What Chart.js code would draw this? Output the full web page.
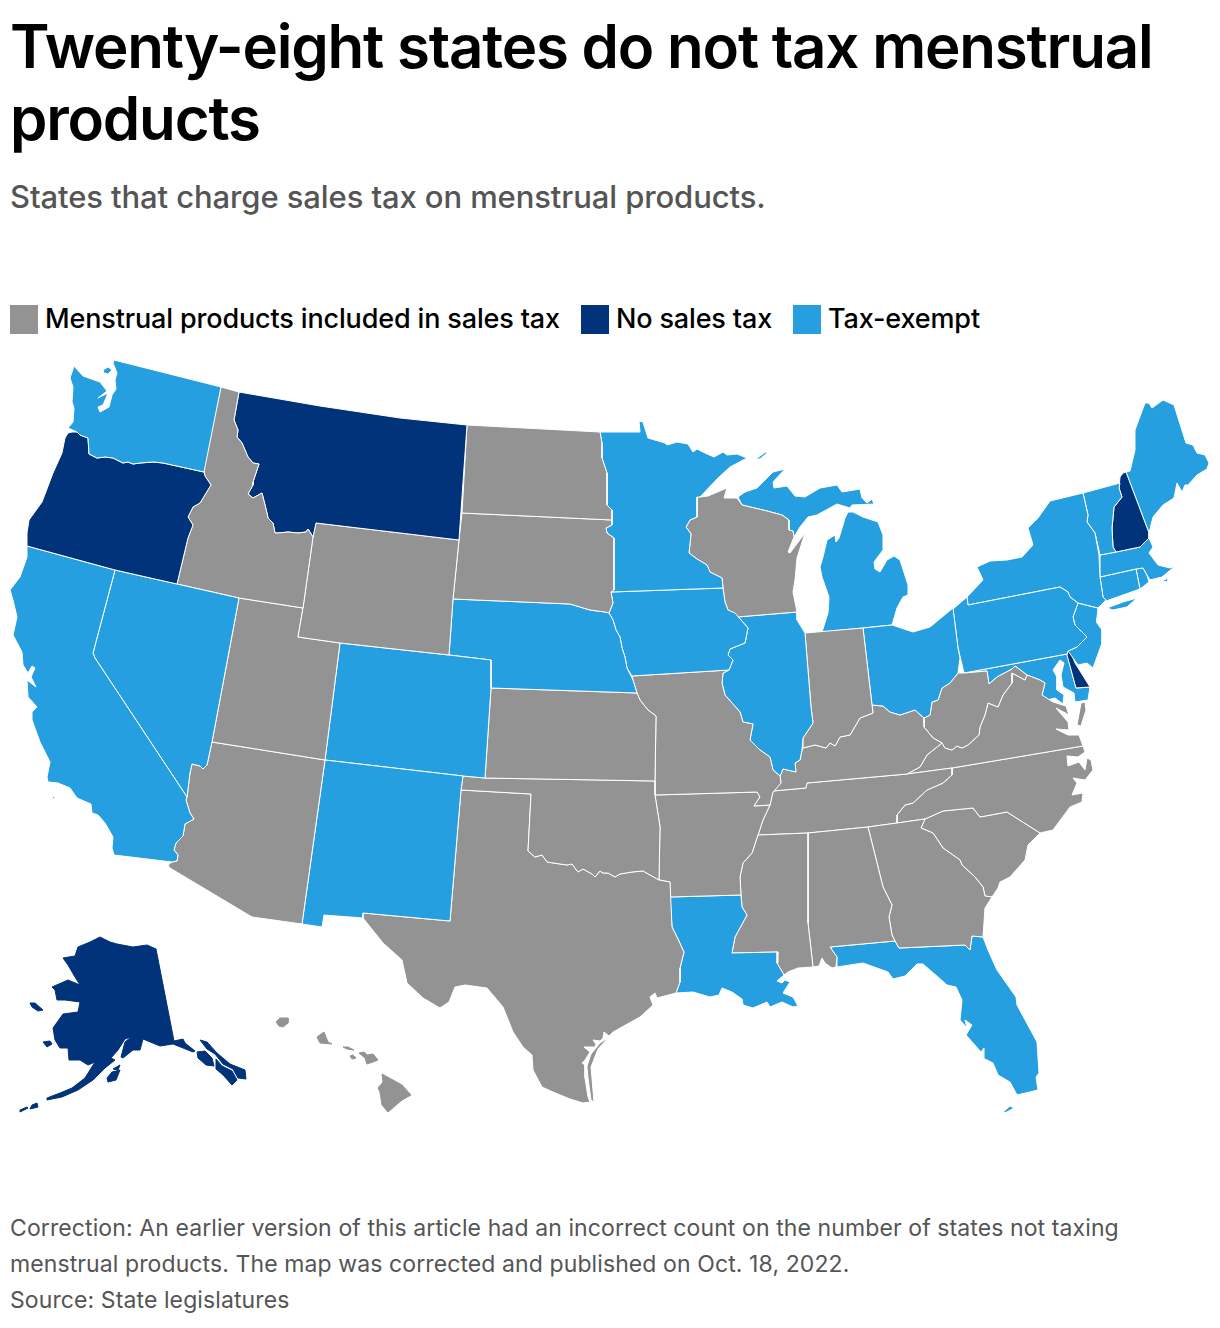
<!DOCTYPE html>
<html>
<head>
<meta charset="utf-8">
<title>Twenty-eight states do not tax menstrual products</title>
<script src="https://cdn.jsdelivr.net/npm/chart.js@4"></script>
<style>
  html, body { margin: 0; padding: 0; background: #fff; }
  body { width: 1220px; height: 1328px; position: relative; overflow: hidden; font-family: Inter, sans-serif; }
  h1 { position: absolute; left: 10px; top: 10px; width: 1200px; margin: 0; font-size: 60px; line-height: 72px; font-weight: 600; color: #000; letter-spacing: -1.2px; }
  #subtitle { position: absolute; left: 10px; top: 177px; font-size: 31px; line-height: 40px; font-weight: 500; color: #555; letter-spacing: -0.1px; }
  #legend { position: absolute; left: 10px; top: 305px; height: 29px; display: flex; font-size: 27px; line-height: 28px; font-weight: 500; color: #000; letter-spacing: -0.15px; }
  #legend span { display: flex; }
  #legend i { display: block; width: 28px; height: 29px; margin-right: 7px; }
  #chart { position: absolute; left: 0; top: 340px; }
  #note { position: absolute; left: 10px; top: 1210px; width: 1200px; font-size: 23px; line-height: 36px; color: #555; letter-spacing: 0.1px; }
</style>
</head>
<body>
<h1>Twenty-eight states do not tax menstrual<br>products</h1>
<div id="subtitle">States that charge sales tax on menstrual products.</div>
<div id="legend"></div>
<canvas id="chart" width="1220" height="790"></canvas>
<div id="note">Correction: An earlier version of this article had an incorrect count on the number of states not taxing<br>menstrual products. The map was corrected and published on Oct. 18, 2022.<br>Source: State legislatures</div>
<script>
const groupLabels = ['Menstrual products included in sales tax', 'No sales tax', 'Tax-exempt'];
const groupColors = ['#939393', '#00337a', '#259fdf'];

const stateNames = ['WA', 'OR', 'CA', 'NV', 'ID', 'MT', 'WY', 'UT', 'AZ', 'NM', 'CO', 'ND', 'SD', 'NE', 'KS', 'OK', 'TX', 'MN', 'IA', 'MO', 'AR', 'LA', 'MS', 'AL', 'GA', 'FL', 'WI', 'IL', 'IN', 'OH', 'KY', 'TN', 'MI', 'WV', 'VA', 'NC', 'SC', 'PA', 'NY', 'NJ', 'DE', 'MD', 'VT', 'NH', 'ME', 'MA', 'CT', 'RI', 'AK', 'HI'];

// index into groupLabels for each state
const stateGroups = [2, 1, 2, 2, 0, 1, 0, 0, 0, 2, 2, 0, 0, 2, 0, 0, 0, 2, 2, 0, 0, 2, 0, 0, 0, 2, 0, 2, 0, 2, 0, 0, 2, 0, 0, 0, 0, 2, 2, 2, 1, 2, 2, 1, 2, 2, 2, 2, 1, 0];

// no white edge on these, the reference draws them without one
const insetStates = ['AK', 'HI'];

// outlines, x,y pairs in map units; one list per landmass
const stateOutlines = {
  WA: [[114,360, 221,387, 204,472, 163,463, 153,462, 140,463, 133,464, 128,462, 123,463, 113,458, 105,457, 97,458, 89,454, 88,438, 80,435, 77,432, 68,428, 73,422, 74,408, 72,402, 73,387, 70,378, 74,366, 83,376, 100,382, 107,391, 98,398, 108,393, 103,405, 98,407, 100,412, 109,407, 112,395, 116,389, 115,380, 117,373, 113,363],
       [103,370, 108,367, 112,370, 108,374, 104,373]],
  OR: [[68,433, 72,432, 77,432, 80,435, 88,438, 89,454, 97,458, 105,457, 113,458, 123,463, 128,462, 133,464, 140,463, 153,462, 163,463, 204,472, 205,476, 211,485, 200,503, 193,507, 188,517, 193,525, 188,538, 177,584, 115,570, 27,546, 27,533, 29,520, 42,502, 53,473, 62,453, 65,438]],
  CA: [[27,546, 115,570, 93,653, 95,658, 187,797, 186,800, 190,813, 194,819, 185,824, 183,836, 176,843, 174,850, 178,855, 177,861, 172,862, 114,855, 112,848, 113,837, 105,823, 98,815, 92,813, 91,804, 77,798, 70,788, 58,783, 48,782, 47,777, 50,762, 45,752, 40,742, 32,720, 32,712, 37,707, 28,697, 27,680, 36,687, 31,677, 35,668, 32,666, 28,673, 23,665, 22,652, 13,635, 17,617, 13,600, 10,590, 20,577, 27,557],
       [52,796, 55,797, 53,799]],
  NV: [[115,570, 177,584, 239,598, 212,742, 207,765, 203,769, 200,766, 192,764, 190,773, 187,797, 95,658, 93,653]],
  ID: [[221,387, 239,392, 234,420, 238,430, 237,437, 242,443, 248,457, 253,463, 259,464, 253,482, 253,485, 248,494, 253,498, 262,493, 263,497, 267,513, 268,518, 273,523, 275,533, 278,533, 288,532, 298,533, 306,532, 308,529, 313,537, 303,608, 239,598, 177,584, 188,538, 193,525, 188,517, 193,507, 200,503, 211,485, 205,476, 204,472, 205,460]],
  MT: [[239,392, 320,406, 400,418, 467,425, 459,540, 316,523, 313,537, 308,529, 306,532, 298,533, 288,532, 278,533, 275,533, 273,523, 268,518, 267,513, 263,497, 262,493, 253,498, 248,494, 253,485, 253,482, 259,464, 253,463, 248,457, 242,443, 237,437, 238,430, 234,420]],
  WY: [[316,523, 459,540, 453,599, 449,655, 340,643, 298,637, 303,608, 313,537]],
  UT: [[239,598, 303,608, 298,637, 340,643, 325,760, 212,742]],
  AZ: [[212,742, 325,760, 302,924, 252,917, 170,868, 168,865, 172,862, 177,861, 178,855, 174,850, 176,843, 183,836, 185,824, 194,819, 190,813, 186,800, 187,797, 190,773, 192,764, 200,766, 203,769, 207,765]],
  NM: [[325,760, 463,776, 461,790, 450,921, 363,913, 363,918, 324,915, 322,927, 302,924]],
  CO: [[340,643, 449,655, 491,660, 491,688, 485,778, 463,776, 325,760]],
  ND: [[467,425, 600,432, 602,443, 602,458, 607,473, 607,505, 612,510, 612,520, 462,513]],
  SD: [[462,513, 612,520, 612,525, 606,528, 607,533, 614,538, 614,590, 611,592, 613,603, 609,613, 605,612, 590,610, 570,604, 453,599, 459,540]],
  NE: [[453,599, 570,604, 590,610, 605,612, 609,613, 613,620, 616,630, 620,637, 622,648, 625,657, 627,668, 633,680, 637,693, 491,688, 491,660, 449,655]],
  KS: [[491,688, 637,693, 640,700, 648,710, 656,716, 655,781, 485,778]],
  OK: [[463,776, 485,778, 655,781, 655,795, 660,827, 659,880, 643,871, 632,872, 620,874, 615,877, 608,873, 603,873, 600,871, 595,877, 592,874, 583,869, 578,872, 572,864, 567,865, 560,864, 547,862, 542,855, 535,857, 528,851, 531,794, 461,790]],
  TX: [[461,790, 531,794, 528,851, 535,857, 542,855, 547,862, 560,864, 567,865, 572,864, 578,872, 583,869, 592,874, 595,877, 600,871, 603,873, 608,873, 615,877, 620,874, 632,872, 643,871, 659,880, 670,882, 672,927, 677,937, 684,952, 680,968, 680,982, 676,993, 657,998, 655,993, 650,997, 653,1005, 640,1017, 613,1032, 609,1036, 604,1032, 603,1038, 600,1041, 593,1040, 596,1044, 595,1047, 584,1047, 590,1052, 585,1060, 582,1063, 585,1065, 585,1078, 588,1097, 590,1102, 583,1103, 570,1099, 553,1092, 542,1087, 533,1070, 532,1055, 523,1047, 513,1032, 503,1007, 487,988, 465,985, 455,987, 449,1002, 440,1008, 423,998, 407,983, 402,960, 383,943, 363,918, 363,913, 450,921],
       [609,1037, 598,1049, 591,1067, 594,1102, 591,1100, 588,1078, 587,1066, 591,1054, 600,1043]],
  MN: [[600,432, 640,432, 639,421, 643,422, 648,438, 665,443, 667,445, 677,442, 688,444, 693,452, 697,449, 705,453, 714,457, 723,452, 727,455, 737,454, 747,458, 730,467, 718,478, 700,497, 697,497, 697,517, 690,520, 686,527, 691,534, 689,553, 697,559, 707,565, 710,572, 722,578, 723,588, 611,592, 614,590, 614,538, 607,533, 606,528, 612,525, 612,520, 612,510, 607,505, 607,473, 602,458, 602,443],
       [756,459, 767,451, 767,453, 760,459]],
  IA: [[611,592, 723,588, 725,602, 728,610, 735,613, 748,628, 745,643, 730,649, 728,655, 733,660, 729,670, 632,676, 627,668, 625,657, 622,648, 620,637, 616,630, 613,620, 609,613, 613,603]],
  MO: [[632,676, 729,670, 723,673, 722,683, 725,695, 740,712, 743,722, 753,724, 750,740, 760,750, 770,757, 773,770, 780,776, 781,783, 775,790, 773,792, 770,805, 754,806, 760,797, 757,792, 655,795, 655,781, 656,716, 648,710, 640,700, 637,693, 633,680]],
  AR: [[655,795, 757,792, 760,797, 754,806, 770,805, 763,820, 758,835, 752,853, 743,863, 740,877, 741,895, 670,897, 670,882, 659,880, 660,827]],
  LA: [[670,897, 741,895, 742,907, 747,915, 735,937, 732,953, 778,952, 777,963, 784,975, 777,981, 782,983, 785,980, 790,982, 783,993, 793,997, 798,1006, 793,1007, 782,1002, 770,1007, 767,1002, 753,1008, 743,1005, 742,999, 732,992, 722,988, 719,995, 710,997, 693,992, 676,993, 680,982, 680,968, 684,952, 677,937, 672,927]],
  MS: [[758,835, 808,833, 808,923, 813,967, 798,968, 788,972, 784,975, 777,963, 778,952, 732,953, 735,937, 747,915, 742,907, 741,895, 740,877, 743,863, 752,853]],
  AL: [[808,833, 868,827, 883,887, 892,905, 889,917, 892,935, 895,941, 830,947, 837,957, 836,967, 832,968, 825,963, 822,958, 819,966, 813,967, 808,923]],
  GA: [[868,827, 897,823, 925,819, 921,828, 933,833, 943,848, 960,860, 962,865, 975,877, 983,887, 985,896, 992,897, 985,908, 983,937, 972,936, 970,950, 965,945, 899,948, 895,941, 892,935, 889,917, 892,905, 883,887]],
  FL: [[830,947, 895,941, 899,948, 965,945, 970,950, 972,936, 983,937, 988,950, 997,970, 1016,997, 1017,1005, 1037,1042, 1039,1073, 1036,1077, 1038,1090, 1017,1095, 1010,1082, 998,1075, 993,1063, 985,1059, 984,1048, 981,1052, 966,1035, 972,1025, 965,1020, 967,1028, 960,1020, 962,1000, 956,987, 947,985, 938,977, 923,964, 917,964, 905,976, 893,979, 888,972, 863,963, 837,967, 837,957],
       [1002,1113, 1010,1106, 1014,1108, 1007,1112]],
  WI: [[697,497, 700,497, 708,496, 727,488, 724,498, 737,498, 742,505, 767,511, 782,515, 789,520, 789,530, 793,531, 794,537, 788,552, 790,553, 805,533, 797,558, 795,580, 793,592, 797,612, 737,617, 728,610, 725,602, 723,588, 722,578, 710,572, 707,565, 697,559, 689,553, 691,534, 686,527, 690,520, 697,517]],
  IL: [[737,617, 797,612, 797,620, 805,633, 811,707, 813,723, 803,738, 802,750, 800,760, 795,763, 796,772, 783,769, 780,776, 773,770, 770,757, 760,750, 750,740, 753,724, 743,722, 740,712, 725,695, 722,683, 723,673, 729,670, 733,660, 728,655, 730,649, 745,643, 748,628, 735,613]],
  IN: [[805,633, 863,628, 872,705, 873,713, 860,718, 850,735, 840,737, 835,746, 830,743, 826,748, 815,745, 803,748, 803,738, 813,723, 811,707]],
  OH: [[863,628, 892,625, 913,632, 930,627, 953,608, 958,648, 960,658, 958,673, 950,683, 942,688, 938,700, 932,702, 930,715, 924,718, 915,710, 900,715, 890,712, 883,706, 872,705]],
  KY: [[872,705, 883,706, 890,712, 900,715, 915,710, 924,718, 924,727, 933,738, 942,743, 927,755, 920,767, 907,774, 807,783, 806,788, 773,791, 781,783, 780,776, 783,769, 796,772, 795,763, 800,760, 802,750, 803,748, 815,745, 826,748, 830,743, 835,746, 840,737, 850,735, 860,718, 873,713]],
  TN: [[773,791, 806,788, 807,783, 907,774, 952,768, 952,775, 943,783, 927,790, 913,803, 905,805, 897,815, 897,823, 868,827, 808,833, 758,835, 763,820, 770,805]],
  MI: [[822,632, 863,628, 892,625, 897,608, 903,597, 908,595, 908,585, 900,560, 894,556, 887,560, 880,572, 875,569, 874,562, 883,550, 883,535, 878,522, 863,517, 853,512, 848,512, 845,518, 843,525, 839,538, 836,542, 835,535, 827,540, 823,557, 820,567, 822,577, 829,597, 828,613],
       [738,497, 745,492, 757,488, 773,472, 785,469, 773,482, 774,488, 787,486, 795,496, 805,497, 820,488, 837,485, 842,492, 860,489, 862,498, 867,503, 872,499, 874,504, 852,505, 850,508, 837,504, 817,515, 808,517, 800,527, 794,537, 793,531, 789,530, 789,520, 782,515, 767,511, 742,505]],
  WV: [[957,648, 960,658, 958,673, 964,673, 987,671, 989,684, 997,677, 1012,669, 1015,666, 1027,675, 1025,680, 1012,673, 1012,683, 1003,695, 998,707, 988,703, 985,715, 980,727, 979,735, 968,745, 962,748, 957,746, 952,750, 945,748, 942,743, 933,738, 924,727, 924,718, 930,715, 932,702, 938,700, 942,688, 950,683, 958,673]],
  VA: [[1012,673, 1025,680, 1027,675, 1040,680, 1045,683, 1042,695, 1053,702, 1066,706, 1069,715, 1056,708, 1068,722, 1069,730, 1056,729, 1068,735, 1079,735, 1083,746, 952,768, 907,774, 920,767, 927,755, 942,743, 945,748, 952,750, 957,746, 962,748, 968,745, 979,735, 980,727, 985,715, 988,703, 998,707, 1003,695, 1012,683],
       [1085,702, 1081,703, 1077,725, 1081,726, 1086,710]],
  NC: [[1083,746, 1085,752, 1078,757, 1067,756, 1068,766, 1079,762, 1085,770, 1087,758, 1091,760, 1093,770, 1085,780, 1073,778, 1077,783, 1072,795, 1083,793, 1082,802, 1070,807, 1053,830, 1040,833, 1007,812, 980,817, 973,808, 943,811, 925,819, 897,823, 897,815, 905,805, 913,803, 927,790, 943,783, 952,775, 952,768]],
  SC: [[925,819, 943,811, 973,808, 980,817, 1007,812, 1040,833, 1028,845, 1025,860, 1010,877, 1000,882, 998,888, 992,897, 985,896, 983,887, 975,877, 962,865, 960,860, 943,848, 933,833, 921,828]],
  PA: [[953,609, 967,597, 968,605, 1060,587, 1068,592, 1070,597, 1078,603, 1073,617, 1075,625, 1087,637, 1077,647, 1068,651, 1067,654, 964,673, 958,648]],
  NY: [[967,597, 983,580, 977,567, 990,561, 1007,560, 1022,557, 1033,545, 1028,528, 1038,518, 1050,501, 1083,493, 1088,515, 1087,522, 1095,533, 1099,555, 1100,577, 1103,597, 1106,600, 1098,608, 1078,603, 1070,597, 1068,592, 1060,587, 968,605],
       [1107,608, 1123,602, 1137,598, 1127,607, 1113,610]],
  NJ: [[1078,603, 1098,608, 1097,618, 1097,623, 1102,630, 1102,643, 1093,668, 1087,663, 1078,665, 1073,658, 1068,651, 1077,647, 1087,637, 1075,625, 1073,617]],
  DE: [[1068,651, 1073,651, 1072,655, 1075,663, 1090,687, 1076,688, 1067,655]],
  MD: [[964,673, 1067,654, 1076,688, 1090,687, 1088,700, 1075,702, 1074,693, 1063,687, 1061,675, 1064,663, 1060,660, 1053,670, 1057,677, 1057,690, 1064,695, 1063,704, 1055,698, 1047,700, 1042,695, 1045,683, 1040,680, 1027,675, 1015,666, 1012,669, 997,677, 989,684, 987,671]],
  VT: [[1083,493, 1120,483, 1119,488, 1122,497, 1114,507, 1112,528, 1113,547, 1116,552, 1100,555, 1095,533, 1087,522, 1088,515]],
  NH: [[1120,477, 1123,473, 1126,472, 1149,533, 1149,538, 1140,547, 1116,552, 1113,547, 1112,528, 1114,507, 1122,497, 1119,488]],
  ME: [[1126,472, 1130,471, 1135,450, 1135,430, 1145,403, 1149,403, 1152,408, 1163,400, 1174,405, 1186,443, 1193,445, 1197,453, 1205,455, 1209,463, 1207,469, 1197,475, 1188,485, 1185,485, 1182,492, 1177,483, 1174,498, 1163,505, 1153,517, 1149,533]],
  MA: [[1100,555, 1116,552, 1140,547, 1149,538, 1153,547, 1149,553, 1158,565, 1170,568, 1176,566, 1173,568, 1162,577, 1150,580, 1147,575, 1143,568, 1136,569, 1100,577],
       [1162,581, 1168,578, 1168,582]],
  CT: [[1100,577, 1136,569, 1140,589, 1106,601, 1103,597]],
  RI: [[1136,569, 1143,568, 1147,575, 1149,582, 1140,589]],
  AK: [[100,937, 110,942, 117,944, 133,947, 147,945, 156,949, 174,1041, 183,1039, 185,1043, 195,1051, 193,1052, 173,1044, 160,1046, 143,1039, 140,1050, 133,1050, 123,1058, 121,1057, 125,1042, 131,1037, 125,1039, 118,1050, 111,1058, 115,1060, 105,1068, 93,1080, 78,1090, 62,1097, 47,1100, 47,1098, 60,1093, 72,1088, 85,1078, 95,1062, 88,1065, 80,1060, 69,1060, 68,1048, 60,1048, 55,1040, 53,1028, 63,1014, 78,1012, 80,1002, 65,1000, 57,1000, 55,990, 52,987, 68,980, 80,985, 75,977, 68,965, 63,958, 75,956, 78,947, 90,942],
       [200,1040, 207,1042, 217,1053, 230,1064, 245,1070, 246,1079, 238,1078, 233,1069, 223,1064, 215,1054, 207,1049],
       [197,1052, 205,1051, 212,1058, 214,1066, 206,1065, 198,1058],
       [216,1059, 222,1066, 232,1071, 237,1080, 232,1085, 223,1075, 216,1069],
       [30,1003, 35,1003, 43,1010, 38,1011, 32,1007],
       [43,1042, 50,1041, 52,1044, 47,1047],
       [107,1078, 112,1072, 120,1070, 116,1080, 108,1082],
       [113,1069, 120,1065, 118,1070],
       [32,1105, 37,1103, 38,1107, 30,1109],
       [20,1110, 27,1107, 28,1108, 20,1112]],
  HI: [[276,1022, 280,1018, 288,1018, 288,1023, 283,1027, 279,1026],
       [317,1037, 324,1032, 328,1042, 332,1044, 320,1043],
       [343,1047, 348,1047, 354,1050, 347,1049],
       [350,1056, 353,1055, 356,1058, 352,1059],
       [359,1053, 364,1052, 367,1055, 373,1054, 378,1060, 373,1062, 367,1064, 365,1058],
       [382,1074, 393,1080, 402,1085, 411,1095, 402,1100, 388,1112, 382,1105, 380,1092, 378,1088, 383,1082]]
};

const legend = document.getElementById('legend');
groupLabels.forEach(function (label, i) {
  const item = document.createElement('span');
  item.style.marginRight = i < 2 ? '21px' : '0';
  item.innerHTML = '<i style="background:' + groupColors[i] + '"></i>' + label;
  legend.appendChild(item);
});

function toPoints(ring) {
  const points = [];
  for (let i = 0; i < ring.length; i += 2) {
    points.push({ x: ring[i], y: ring[i + 1] });
  }
  points.push({ x: ring[0], y: ring[1] });
  return points;
}

const datasets = [];
stateNames.forEach(function (name, i) {
  const color = groupColors[stateGroups[i]];
  stateOutlines[name].forEach(function (ring) {
    datasets.push({
      label: name,
      data: toPoints(ring),
      showLine: true,
      fill: 'shape',
      tension: 0,
      pointRadius: 0,
      borderWidth: 1,
      borderColor: insetStates.includes(name) ? color : '#fff',
      backgroundColor: color
    });
  });
});

new Chart(document.getElementById('chart').getContext('2d'), {
  type: 'scatter',
  data: { datasets: datasets },
  options: {
    responsive: false,
    animation: false,
    events: [],
    layout: { padding: 0 },
    plugins: { legend: { display: false }, tooltip: { enabled: false } },
    scales: {
      x: { type: 'linear', display: false, min: 0, max: 1220 },
      y: { type: 'linear', display: false, reverse: true, min: 340, max: 1130 }
    }
  }
});
</script>
</body>
</html>
